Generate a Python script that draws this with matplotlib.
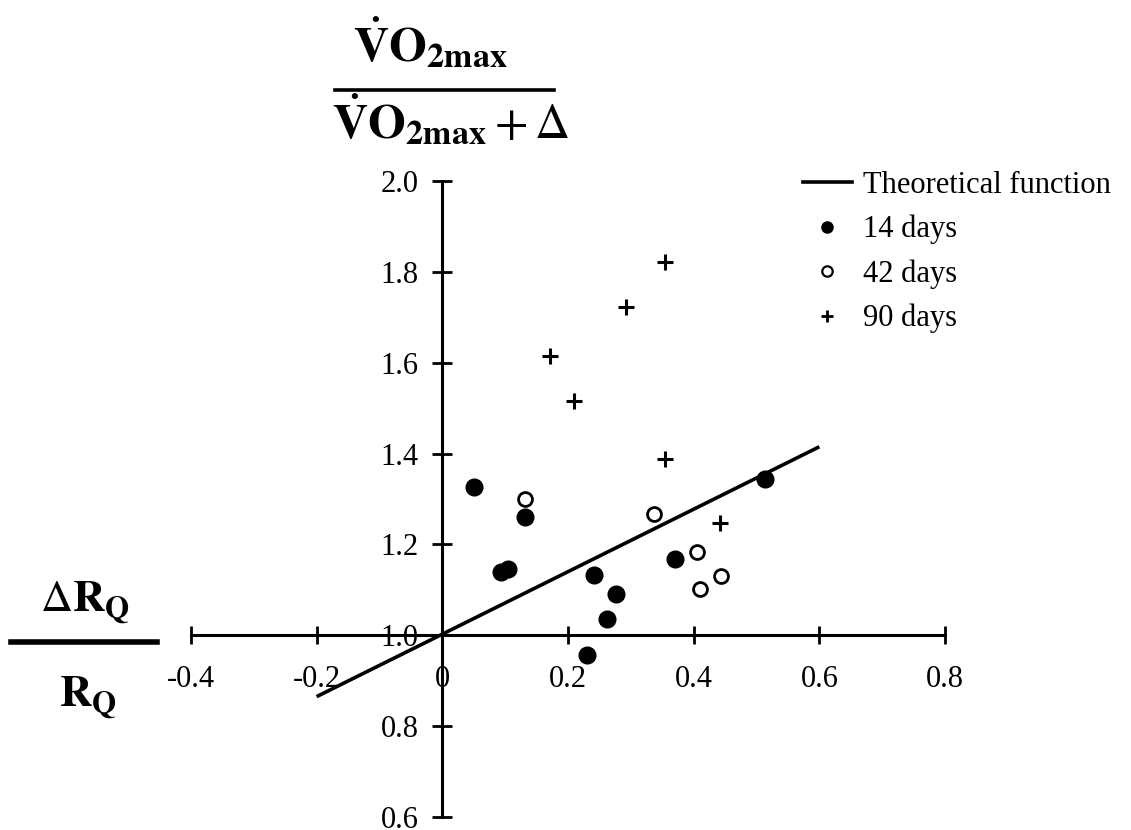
import matplotlib
matplotlib.use("Agg")
import matplotlib.pyplot as plt
from matplotlib.lines import Line2D

# ---- data ----
theory_x = [-0.2, 0.6]
theory_y = [0.865, 1.415]

d14_x = [0.050, 0.132, 0.094, 0.104, 0.242, 0.276, 0.262, 0.231, 0.370, 0.513]
d14_y = [1.326, 1.260, 1.140, 1.145, 1.133, 1.090, 1.035, 0.956, 1.169, 1.344]

d42_x = [0.131, 0.337, 0.405, 0.410, 0.444]
d42_y = [1.300, 1.266, 1.183, 1.102, 1.130]

d90_x = [0.171, 0.209, 0.293, 0.355, 0.354, 0.442]
d90_y = [1.615, 1.515, 1.722, 1.821, 1.389, 1.248]

x_ticks = [-0.4, -0.2, 0.0, 0.2, 0.4, 0.6, 0.8]
x_ticklabels = ["-0.4", "-0.2", "0", "0.2", "0.4", "0.6", "0.8"]
y_ticks = [0.6, 0.8, 1.0, 1.2, 1.4, 1.6, 1.8, 2.0]
y_ticklabels = ["0.6", "0.8", "1.0", "1.2", "1.4", "1.6", "1.8", "2.0"]

legend_labels = ["Theoretical function", "14 days", "42 days", "90 days"]

# ---- style ----
plt.rcParams["font.family"] = ["Liberation Serif", "DejaVu Serif"]
plt.rcParams["mathtext.fontset"] = "stix"

W, H = 1131, 830
fig = plt.figure(figsize=(W / 100, H / 100), dpi=100)
ax = fig.add_axes([191 / W, 1 - 817 / H, (945 - 191) / W, (817 - 181) / H])
ax.set_xlim(-0.4, 0.8)
ax.set_ylim(0.6, 2.0)

for s in ("top", "right"):
    ax.spines[s].set_visible(False)
ax.spines["left"].set_position(("data", 0.0))
ax.spines["bottom"].set_position(("data", 1.0))
for s in ("left", "bottom"):
    ax.spines[s].set_linewidth(2.2)

ax.set_xticks(x_ticks)
ax.set_xticklabels(x_ticklabels)
ax.set_yticks(y_ticks)
ax.set_yticklabels(y_ticklabels)
ax.tick_params(axis="x", direction="inout", length=13, width=2.0, labelsize=22, pad=15)
ax.tick_params(axis="y", direction="inout", length=14, width=2.0, labelsize=22, pad=10)

ax.plot(theory_x, theory_y, color="black", lw=2.6, solid_capstyle="butt", clip_on=False)
ax.plot(d14_x, d14_y, "o", color="black", ms=12, clip_on=False, zorder=3)
ax.plot(d42_x, d42_y, "o", mfc="white", mec="black", mew=2.0, ms=10, clip_on=False, zorder=3)
ax.plot(d90_x, d90_y, "+", color="black", mew=2.2, ms=12, clip_on=False, zorder=3)

handles = [
    Line2D([], [], color="black", lw=2.6),
    Line2D([], [], ls="none", marker="o", color="black", ms=8),
    Line2D([], [], ls="none", marker="o", mfc="white", mec="black", mew=1.6, ms=7.5),
    Line2D([], [], ls="none", marker="+", color="black", mew=2.0, ms=9),
]
ax.legend(handles, legend_labels, loc="upper left",
          bbox_to_anchor=(803 / W, 1 - 171 / H), bbox_transform=fig.transFigure,
          frameon=False, borderpad=0, borderaxespad=0, fontsize=22,
          handlelength=1.6, handletextpad=0.35, labelspacing=0.49, numpoints=1)

# ---- axis labels as fractions ----
def fx(px):
    return px / W

def fy(py):
    return 1 - py / H

fig.text(fx(430), fy(60), r"$\mathbf{\dot{V}O_{2max}}$", fontsize=35,
         ha="center", va="baseline")
fig.add_artist(Line2D([fx(335), fx(554)], [fy(90), fy(90)], color="black", lw=2.6))
fig.text(fx(451), fy(137), r"$\mathbf{\dot{V}O_{2max}} + \Delta$", fontsize=35,
         ha="center", va="baseline")

fig.text(fx(85), fy(613), r"$\Delta\mathbf{R_Q}$", fontsize=32,
         ha="center", va="baseline")
fig.add_artist(Line2D([fx(11), fx(157)], [fy(642), fy(642)], color="black", lw=4))
fig.text(fx(88), fy(708), r"$\mathbf{R_Q}$", fontsize=32,
         ha="center", va="baseline")

fig.savefig("out.png", dpi=100)
